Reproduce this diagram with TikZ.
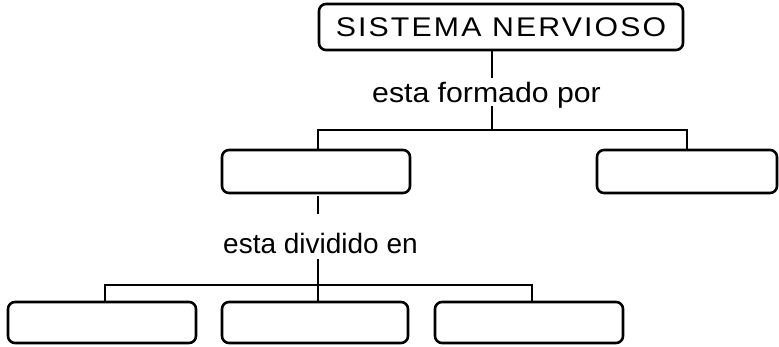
\documentclass[tikz,border=0pt]{standalone}
\usepackage{fontspec}
\setmainfont{Liberation Sans}
\usepackage{tikz}
\usetikzlibrary{positioning}
\tikzstyle{link}=[line width=2.5pt,black,line cap=rect]
\tikzset{>=latex}

\begin{document}
\begin{tikzpicture}[x=1pt,y=-1pt,
                    BOX/.style = {draw, line width=2.6pt, rounded corners=7pt,
                              minimum height=#1, inner sep=0pt,
                              font=\fontsize{27}{30}\selectfont\addfontfeature{FakeStretch=1.12,LetterSpace=8}},
                    BOX/.default = 43pt,
                    LBL/.style = {inner sep=0pt, anchor=base west,
                              font=\fontsize{28}{32}\selectfont\addfontfeature{FakeStretch=#1}},
                    LBL/.default = 1
               ]
               \useasboundingbox (0,0) rectangle (779,347);
               % top
               \node[BOX=46pt, minimum width=364pt] (sn) at (501,27) {SISTEMA NERVIOSO};
               \node[LBL=1.08] (lab1) at (372,103) {esta formado por};
               % middle row
               \node[BOX, minimum width=188pt] (mA) at (316,171.5) {};
               \node[BOX, minimum width=180pt] (mB) at (687,171.5) {};
               \node[LBL] (lab2) at (223,254) {esta dividido en};
               % bottom row
               \node[BOX=41pt, minimum width=188pt] (bA) at (102,322.5) {};
               \node[BOX=41pt, minimum width=186pt] (bB) at (315,322.5) {};
               \node[BOX=41pt, minimum width=188pt] (bC) at (529,322.5) {};

               \coordinate (s1) at (492,77);
               \coordinate (s2) at (492,107);
               \coordinate (j1) at (492,130); % upper bar
               \coordinate (t1) at (318,197);
               \coordinate (t2) at (318,213);
               \coordinate (t3) at (318,260);
               \coordinate (j2) at (318,285); % lower bar

               \draw[link] (sn.south -| s1) -- (s1);
               \draw[link] (s2) -- (j1);
               \draw[link] (t1 |- mA.north) |- (j1) -| (mB.north);

               \draw[link] (t1) -- (t2);
               \draw[link] (t3) -- (j2);
               \draw[link] ([xshift=3pt]bA.north) |- (j2) -| ([xshift=3pt]bC.north);
               \draw[link] (j2) -- (j2 |- bB.north);
          \end{tikzpicture}
\end{document}
